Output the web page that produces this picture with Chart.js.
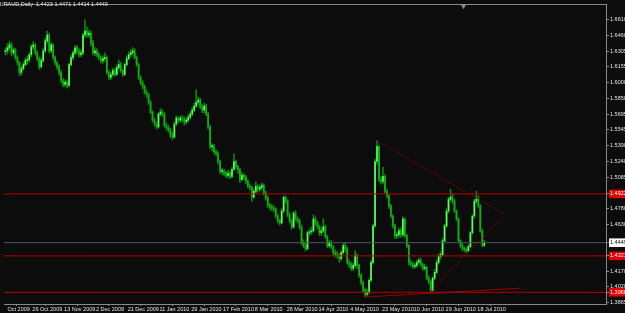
<!DOCTYPE html>
<html>
<head>
<meta charset="utf-8">
<script src="https://cdn.jsdelivr.net/npm/chart.js@4.4.1/dist/chart.umd.min.js"></script>
<style>
  html, body { margin: 0; padding: 0; background: #0c0c0c; overflow: hidden; }
  #wrap { position: relative; width: 625px; height: 313px; }
  #title { position: absolute; left: -4px; top: 1px; color: #e6e6e6; white-space: pre;
           font: 5.5px 'Liberation Sans', sans-serif; }
</style>
</head>
<body>
<div id="wrap">
  <canvas id="chart"></canvas>
  <div id="title">EURAUD,Daily  1.4423 1.4471 1.4414 1.4449</div>
</div>
<script>
// EURAUD daily, one bar per trading day (Sun-Fri), Oct 2009 - 23 Jul 2010
const closes = [
  1.6310,1.6338,1.6367,1.6290,1.6319,1.6243,1.6195,1.6099,1.6137,1.6175,
  1.6214,1.6223,1.6271,1.6348,1.6367,1.6290,1.6233,1.6156,1.6214,1.6310,
  1.6406,1.6463,1.6310,1.6367,1.6243,1.6195,1.6156,1.6099,1.6022,1.5984,
  1.6003,1.5974,1.6175,1.6243,1.6290,1.6338,1.6310,1.6271,1.6290,1.6463,
  1.6501,1.6463,1.6482,1.6386,1.6290,1.6310,1.6271,1.6243,1.6214,1.6233,
  1.6243,1.6099,1.6051,1.6080,1.6118,1.6080,1.6147,1.6175,1.6118,1.6080,
  1.6175,1.6233,1.6271,1.6290,1.6310,1.6243,1.6175,1.6051,1.6003,1.5964,
  1.5907,1.5888,1.5811,1.5715,1.5638,1.5600,1.5571,1.5696,1.5715,1.5696,
  1.5581,1.5562,1.5542,1.5494,1.5475,1.5600,1.5658,1.5638,1.5658,1.5648,
  1.5619,1.5638,1.5667,1.5696,1.5734,1.5773,1.5811,1.5830,1.5763,1.5734,
  1.5773,1.5696,1.5571,1.5380,1.5380,1.5332,1.5312,1.5236,1.5140,1.5140,
  1.5121,1.5101,1.5121,1.5092,1.5159,1.5236,1.5188,1.5159,1.5063,1.5101,
  1.5082,1.5044,1.4996,1.4986,1.4890,1.4948,1.4996,1.4967,1.4986,1.5005,
  1.4929,1.4881,1.4814,1.4794,1.4785,1.4775,1.4708,1.4660,1.4641,1.4756,
  1.4890,1.4852,1.4718,1.4660,1.4603,1.4737,1.4679,1.4660,1.4603,1.4449,
  1.4420,1.4392,1.4545,1.4555,1.4564,1.4679,1.4641,1.4603,1.4545,1.4564,
  1.4603,1.4507,1.4420,1.4449,1.4411,1.4353,1.4334,1.4325,1.4296,1.4353,
  1.4420,1.4392,1.4257,1.4238,1.4200,1.4229,1.4325,1.4229,1.4133,1.4066,
  1.3989,1.3951,1.3970,1.4085,1.4257,1.4612,1.5236,1.5380,1.5063,1.5044,
  1.5092,1.4948,1.4900,1.4804,1.4708,1.4612,1.4516,1.4526,1.4564,1.4526,
  1.4679,1.4516,1.4420,1.4257,1.4238,1.4219,1.4229,1.4257,1.4277,1.4238,
  1.4200,1.4210,1.4104,1.4066,1.3989,1.4104,1.4162,1.4257,1.4315,1.4334,
  1.4468,1.4612,1.4756,1.4871,1.4890,1.4852,1.4756,1.4679,1.4468,1.4420,
  1.4392,1.4382,1.4372,1.4411,1.4545,1.4708,1.4852,1.4871,1.4804,1.4564,
  1.4423,1.4449
];
const highs = [
  1.634,1.638,1.640,1.639,1.634,1.633,1.626,1.621,1.616,1.620,
  1.624,1.626,1.629,1.637,1.640,1.638,1.631,1.625,1.624,1.633,
  1.643,1.650,1.648,1.639,1.638,1.626,1.621,1.617,1.612,1.604,
  1.603,1.602,1.619,1.627,1.631,1.636,1.636,1.633,1.632,1.648,
  1.661,1.654,1.651,1.650,1.641,1.634,1.633,1.629,1.626,1.626,
  1.629,1.626,1.612,1.610,1.614,1.614,1.617,1.622,1.620,1.613,
  1.619,1.626,1.630,1.632,1.634,1.633,1.626,1.619,1.607,1.602,
  1.598,1.593,1.590,1.583,1.573,1.566,1.562,1.571,1.575,1.574,
  1.571,1.561,1.559,1.556,1.552,1.562,1.568,1.567,1.568,1.568,
  1.567,1.566,1.569,1.572,1.576,1.580,1.593,1.586,1.585,1.579,
  1.580,1.579,1.571,1.559,1.541,1.540,1.535,1.533,1.525,1.517,
  1.516,1.514,1.515,1.514,1.518,1.531,1.525,1.520,1.517,1.513,
  1.512,1.510,1.506,1.502,1.500,1.497,1.504,1.501,1.501,1.503,
  1.502,1.495,1.490,1.483,1.482,1.481,1.479,1.473,1.468,1.478,
  1.490,1.490,1.487,1.474,1.468,1.475,1.476,1.470,1.468,1.462,
  1.448,1.445,1.456,1.458,1.460,1.472,1.470,1.466,1.462,1.460,
  1.468,1.462,1.452,1.447,1.447,1.442,1.438,1.436,1.434,1.437,
  1.444,1.445,1.441,1.428,1.426,1.425,1.437,1.434,1.424,1.415,
  1.408,1.401,1.400,1.410,1.428,1.463,1.526,1.544,1.539,1.509,
  1.518,1.511,1.497,1.492,1.482,1.472,1.463,1.455,1.459,1.459,
  1.470,1.469,1.453,1.443,1.428,1.426,1.425,1.428,1.430,1.430,
  1.425,1.424,1.422,1.413,1.409,1.412,1.419,1.428,1.434,1.436,
  1.449,1.463,1.478,1.489,1.497,1.492,1.487,1.477,1.469,1.448,
  1.444,1.441,1.440,1.443,1.456,1.472,1.487,1.495,1.490,1.482,
  1.458,1.4471
];
const lows = [
  1.627,1.628,1.632,1.626,1.627,1.622,1.617,1.607,1.607,1.612,
  1.616,1.618,1.620,1.625,1.632,1.627,1.621,1.613,1.614,1.620,
  1.629,1.638,1.629,1.629,1.622,1.617,1.613,1.607,1.600,1.596,
  1.596,1.595,1.596,1.616,1.622,1.627,1.628,1.625,1.625,1.627,
  1.644,1.644,1.644,1.636,1.627,1.626,1.625,1.622,1.619,1.619,
  1.621,1.608,1.603,1.603,1.606,1.606,1.607,1.613,1.610,1.606,
  1.607,1.616,1.622,1.625,1.627,1.623,1.616,1.603,1.598,1.594,
  1.589,1.586,1.579,1.570,1.562,1.558,1.555,1.556,1.568,1.567,
  1.557,1.554,1.552,1.547,1.545,1.546,1.558,1.561,1.562,1.562,
  1.559,1.560,1.562,1.565,1.568,1.572,1.576,1.579,1.575,1.571,
  1.571,1.568,1.555,1.536,1.534,1.531,1.529,1.521,1.512,1.511,
  1.510,1.508,1.508,1.507,1.508,1.515,1.517,1.512,1.503,1.505,
  1.506,1.502,1.498,1.496,1.485,1.488,1.493,1.494,1.495,1.496,
  1.491,1.486,1.479,1.477,1.476,1.475,1.469,1.464,1.462,1.463,
  1.474,1.483,1.470,1.464,1.458,1.459,1.466,1.464,1.458,1.443,
  1.440,1.437,1.438,1.452,1.453,1.455,1.462,1.458,1.452,1.452,
  1.455,1.449,1.440,1.440,1.439,1.433,1.431,1.430,1.426,1.428,
  1.434,1.436,1.424,1.421,1.418,1.418,1.421,1.420,1.411,1.404,
  1.397,1.3925,1.393,1.395,1.407,1.424,1.460,1.521,1.504,1.502,
  1.502,1.493,1.488,1.478,1.469,1.459,1.449,1.449,1.450,1.450,
  1.451,1.450,1.440,1.423,1.422,1.420,1.420,1.421,1.424,1.422,
  1.418,1.418,1.409,1.405,1.3975,1.398,1.409,1.415,1.424,1.429,
  1.432,1.445,1.460,1.474,1.485,1.483,1.474,1.466,1.445,1.440,
  1.437,1.436,1.435,1.436,1.440,1.453,1.469,1.483,1.479,1.455,
  1.441,1.4414
];
const firstOpen = 1.6300;

// date labels on the time axis (bar index -> text)
const tickIndex = [-0.5, 12, 28, 44, 60, 76, 92, 108, 124, 140, 156, 172, 188, 204, 220, 236];
const tickLabels = ['Oct 2009', '26 Oct 2009', '13 Nov 2009', '2 Dec 2009', '21 Dec 2009', '11 Jan 2010',
  '29 Jan 2010', '17 Feb 2010', '8 Mar 2010', '26 Mar 2010', '14 Apr 2010', '4 May 2010',
  '23 May 2010', '10 Jun 2010', '29 Jun 2010', '18 Jul 2010'];

// price scale labels
const priceTicks = [1.6610, 1.6460, 1.6305, 1.6155, 1.6000, 1.5850, 1.5695, 1.5545, 1.5390,
  1.5240, 1.5085, 1.4780, 1.4630, 1.4170, 1.4020, 1.3865];

// horizontal levels and current price
const redLevels = [1.4922, 1.4321, 1.3968];
const lastPrice = 1.4449;

// trend lines: [startIndex, startPrice, endIndex, endPrice]
const upperTrend = [186, 1.5447, 251, 1.4727];
const lowerTrend = [213.5, 1.3970, 249.5, 1.4689];
const bottomTrend = [180.5, 1.3922, 259.5, 1.4008];

const X_MIN = -0.75, X_MAX = 302.25;
const Y_MIN = 1.38546, Y_MAX = 1.67604;

const opens = closes.map((c, i) => i === 0 ? firstOpen : closes[i - 1]);
const wickData = closes.map((c, i) => ({ x: i, y: [lows[i], highs[i]] }));
const bodyData = closes.map((c, i) => ({ x: i, y: [opens[i], c] }));
const bodyColors = closes.map((c, i) => c >= opens[i] ? '#5cff5c' : '#12b012');

function seg(t) { return [{ x: t[0], y: t[1] }, { x: t[2], y: t[3] }]; }
function hline(v) { return [{ x: X_MIN, y: v }, { x: X_MAX, y: v }]; }

const axisFont = { family: "'Liberation Sans', sans-serif", size: 5.5 };

const lineBase = { type: 'line', pointRadius: 0, borderWidth: 1, fill: false, order: 1 };

const datasets = [
  { type: 'bar', label: 'wick', data: wickData, backgroundColor: '#078a07',
    barThickness: 1, grouped: false, order: 3 },
  { type: 'bar', label: 'body', data: bodyData, backgroundColor: bodyColors,
    barThickness: 1, minBarLength: 1, grouped: false, order: 2 },
  { ...lineBase, data: hline(lastPrice), borderColor: '#4f5560' },
  ...redLevels.map(v => ({ ...lineBase, data: hline(v), borderColor: '#b80000' })),
  { ...lineBase, data: seg(upperTrend), borderColor: '#9a0000', borderDash: [1, 1] },
  { ...lineBase, data: seg(lowerTrend), borderColor: '#9a0000', borderDash: [1, 1] },
  { ...lineBase, data: seg(bottomTrend), borderColor: '#9a0000' },
  { type: 'scatter', data: [{ x: 230.5, y: 1.6741 }], pointStyle: 'triangle', rotation: 180,
    pointRadius: 3, backgroundColor: '#8c8c8c', borderWidth: 0, order: 0 }
];

// label backgrounds on the price scale
const tagBg = {};
redLevels.forEach(v => { tagBg[v.toFixed(4)] = ['#e00000', '#ffffff']; });
tagBg[lastPrice.toFixed(4)] = ['#ffffff', '#000000'];

new Chart(document.getElementById('chart'), {
  type: 'bar',
  data: { datasets },
  options: {
    responsive: true,
    maintainAspectRatio: false,
    animation: false,
    layout: { padding: 0 },
    plugins: { legend: { display: false }, tooltip: { enabled: false } },
    scales: {
      x: {
        type: 'linear', min: X_MIN, max: X_MAX, offset: false,
        border: { color: '#8a8a8a' },
        grid: { drawOnChartArea: false, color: '#8a8a8a', tickLength: 2 },
        ticks: {
          autoSkip: false, maxRotation: 0, align: 'start', labelOffset: 3, padding: 0,
          color: '#e6e6e6', font: axisFont,
          callback: v => { const k = tickIndex.indexOf(v); return k >= 0 ? tickLabels[k] : ''; }
        },
        afterBuildTicks: s => { s.ticks = tickIndex.map(v => ({ value: v })); },
        afterFit: s => { s.height = 9; }
      },
      xTop: {
        type: 'linear', position: 'top', min: X_MIN, max: X_MAX,
        border: { color: '#8a8a8a' }, grid: { display: false }, ticks: { display: false },
        afterFit: s => { s.height = 1; }
      },
      y: {
        type: 'linear', position: 'right', min: Y_MIN, max: Y_MAX,
        border: { color: '#8a8a8a' },
        grid: { drawOnChartArea: false, color: '#8a8a8a', tickLength: 3 },
        ticks: {
          autoSkip: false, padding: 1, font: axisFont,
          color: ctx => { const t = tagBg[ctx.tick.value.toFixed(4)]; return t ? t[1] : '#e6e6e6'; },
          showLabelBackdrop: ctx => !!tagBg[ctx.tick.value.toFixed(4)],
          backdropColor: ctx => { const t = tagBg[ctx.tick.value.toFixed(4)]; return t ? t[0] : 'rgba(0,0,0,0)'; },
          backdropPadding: { top: 1, bottom: 1, left: 1, right: 4 },
          callback: v => v.toFixed(4)
        },
        afterBuildTicks: s => {
          const vals = priceTicks.concat(redLevels, [lastPrice]);
          s.ticks = vals.map(v => ({ value: v }));
        },
        afterFit: s => { s.width = 19; }
      }
    }
  }
});
</script>
</body>
</html>
